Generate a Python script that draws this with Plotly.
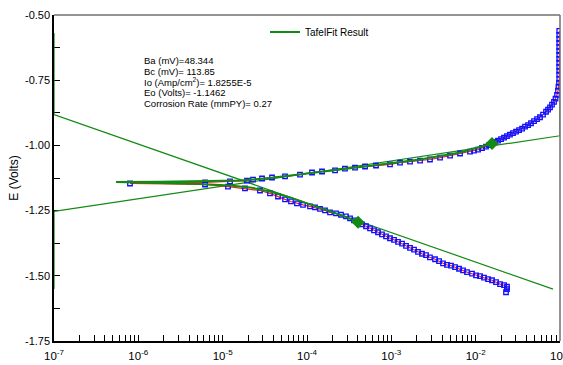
import plotly.graph_objects as go

# ---- measured polarization data (current A/cm2, potential V), sweep order ----
cath_i = [2.29e-2, 2.35e-2, 2.35e-2, 2.17e-2, 1.945e-2, 1.744e-2, 1.563e-2, 1.401e-2, 1.256e-2, 1.126e-2,
          1.01e-2, 9.05e-3, 7.89e-3, 7.08e-3, 6.35e-3, 5.69e-3, 5.10e-3, 4.57e-3, 4.10e-3, 3.68e-3,
          3.30e-3, 2.87e-3, 2.58e-3, 2.31e-3, 2.07e-3, 1.857e-3, 1.665e-3, 1.493e-3, 1.339e-3, 1.20e-3,
          1.076e-3, 9.64e-4, 8.65e-4, 7.75e-4, 6.95e-4, 6.23e-4, 5.59e-4, 5.01e-4, 4.49e-4, 4.03e-4,
          3.61e-4, 3.24e-4, 2.90e-4, 2.53e-4, 2.21e-4, 1.875e-4, 1.635e-4, 1.426e-4, 1.245e-4, 1.086e-4,
          8.97e-5, 7.61e-5, 6.46e-5, 5.49e-5, 4.53e-5, 3.64e-5, 2.77e-5, 1.84e-5, 1.157e-5, 6.18e-6,
          7.96e-7]
cath_E = [-1.563, -1.551, -1.542, -1.536, -1.532, -1.5245, -1.517, -1.513, -1.507, -1.5015,
          -1.498, -1.492, -1.486, -1.479, -1.473, -1.467, -1.461, -1.458, -1.452, -1.444,
          -1.4365, -1.429, -1.421, -1.4155, -1.408, -1.400, -1.393, -1.385, -1.377, -1.370,
          -1.362, -1.356, -1.349, -1.341, -1.333, -1.326, -1.318, -1.310, -1.303, -1.295,
          -1.2875, -1.280, -1.272, -1.266, -1.261, -1.257, -1.249, -1.2435, -1.238, -1.234,
          -1.228, -1.2225, -1.215, -1.207, -1.196, -1.184, -1.173, -1.165, -1.158, -1.150,
          -1.146]
anod_i = [6.18e-6, 1.222e-5, 1.944e-5, 2.29e-5, 2.93e-5, 3.85e-5, 5.49e-5, 8.26e-5, 1.147e-4, 1.507e-4,
          2.15e-4, 2.82e-4, 3.71e-4, 4.88e-4, 6.58e-4, 9.64e-4, 1.267e-3, 1.665e-3, 2.19e-3, 2.87e-3,
          3.78e-3, 4.97e-3, 6.52e-3, 8.57e-3, 9.56e-3, 1.067e-2, 1.19e-2, 1.327e-2, 1.44e-2, 1.563e-2,
          1.697e-2, 1.84e-2, 2.0e-2, 2.17e-2, 2.35e-2, 2.55e-2, 2.77e-2, 3.01e-2, 3.27e-2, 3.55e-2,
          3.85e-2, 4.18e-2, 4.53e-2, 4.92e-2, 5.34e-2, 5.79e-2, 6.29e-2, 6.83e-2, 7.21e-2, 7.61e-2,
          8.04e-2, 8.49e-2, 8.85e-2, 9.22e-2, 9.47e-2, 9.6e-2, 9.74e-2, 9.8e-2, 9.8e-2, 9.8e-2,
          9.8e-2, 9.8e-2, 9.8e-2, 9.8e-2, 9.8e-2, 9.8e-2, 9.8e-2, 9.8e-2, 9.8e-2, 9.8e-2]
anod_E = [-1.142, -1.138, -1.135, -1.131, -1.127, -1.123, -1.119, -1.112, -1.104, -1.100,
          -1.096, -1.089, -1.085, -1.081, -1.077, -1.073, -1.066, -1.062, -1.058, -1.054,
          -1.047, -1.039, -1.031, -1.024, -1.020, -1.016, -1.010, -1.005, -0.999, -0.993,
          -0.987, -0.982, -0.976, -0.970, -0.9645, -0.959, -0.953, -0.947, -0.9415, -0.936,
          -0.928, -0.922, -0.915, -0.907, -0.8995, -0.892, -0.882, -0.871, -0.863, -0.854,
          -0.844, -0.833, -0.821, -0.806, -0.7905, -0.775, -0.760, -0.745, -0.729, -0.714,
          -0.699, -0.683, -0.668, -0.653, -0.638, -0.622, -0.607, -0.592, -0.576, -0.561]

# ---- Tafel fit result ----
fit_i = [4.03e-4, 2.98e-4, 1.875e-4, 1.086e-4, 6.29e-5, 3.64e-5, 2.11e-5, 1.222e-5, 5.38e-6, 1.81e-6,
         5.43e-7, 1.81e-6, 5.38e-6, 1.605e-5, 3.64e-5, 8.26e-5, 2.46e-4, 7.34e-4, 2.19e-3, 6.52e-3,
         1.563e-2]
fit_E = [-1.295, -1.276, -1.253, -1.226, -1.1995, -1.177, -1.161, -1.154, -1.148, -1.144,
         -1.140, -1.139, -1.138, -1.135, -1.125, -1.112, -1.0925, -1.073, -1.054, -1.0275,
         -0.993]
ana_i = [1e-7, 1e-7, 1e-1, 1e-1]
ana_E = [-1.551, -1.253, -0.963, -0.569]
cat_i = [1e-7, 1e-7, 8.26e-2]
cat_E = [-0.569, -0.882, -1.551]
diam_i = [4.03e-4, 1.563e-2]
diam_E = [-1.295, -0.993]

# ---- axis ticks ----
x_major = [1e-7, 1e-6, 1e-5, 1e-4, 1e-3, 1e-2, 1e-1]
x_labels = ["10<sup>-7</sup>", "10<sup>-6</sup>", "10<sup>-5</sup>", "10<sup>-4</sup>",
            "10<sup>-3</sup>", "10<sup>-2</sup>", "10<sup>-1</sup>"]
y_tickvals = [-0.50, -0.75, -1.00, -1.25, -1.50, -1.75]
y_ticktext = ["-0.50", "-0.75", "-1.00", "-1.25", "-1.50", "-1.75"]

fit_text = ["Ba (mV)=48.344", "Bc (mV)= 113.85", "Io (Amp/cm<sup>2</sup>)= 1.8255E-5",
            "Eo (Volts)= -1.1462", "Corrosion Rate (mmPY)= 0.27"]

# tick positions: decades plus 2..9 minor positions (unlabelled)
x_tickvals, x_ticktext = [], []
for d, lab in zip(x_major, x_labels):
    x_tickvals.append(d)
    x_ticktext.append(lab)
    if d < 1e-1:
        for m in range(2, 10):
            x_tickvals.append(d * m)
            x_ticktext.append(" ")

meas_i = cath_i + anod_i
meas_E = cath_E + anod_E

GREEN = "#138a13"
FONT = "Liberation Sans, Arial, sans-serif"

fig = go.Figure()
fig.add_trace(go.Scatter(x=ana_i, y=ana_E, mode="lines", line=dict(color=GREEN, width=1.2),
                         showlegend=False, hoverinfo="skip"))
fig.add_trace(go.Scatter(x=cat_i, y=cat_E, mode="lines", line=dict(color=GREEN, width=1.2),
                         showlegend=False, hoverinfo="skip"))
fig.add_trace(go.Scatter(x=meas_i, y=meas_E, mode="lines", line=dict(color="#ff2020", width=1.2),
                         showlegend=False))
fig.add_trace(go.Scatter(x=meas_i, y=meas_E, mode="markers",
                         marker=dict(symbol="square-open", size=4.5, color="#1010ff",
                                     line=dict(width=1.3, color="#1010ff")),
                         showlegend=False))
fig.add_trace(go.Scatter(x=fit_i, y=fit_E, mode="lines", line=dict(color=GREEN, width=2),
                         name="TafelFit Result", showlegend=True))
fig.add_trace(go.Scatter(x=diam_i, y=diam_E, mode="markers",
                         marker=dict(symbol="diamond", size=10, color=GREEN),
                         showlegend=False))

text_px = [61, 71.5, 82, 92.5, 103]
for t, py in zip(fit_text, text_px):
    fig.add_annotation(x=(142 - 54) / 506, y=1 - (py - 15) / 326,
                       xref="paper", yref="paper", text=t, showarrow=False,
                       xanchor="left", yanchor="middle",
                       font=dict(size=9.5, color="black", family=FONT))

fig.update_layout(
    width=563, height=365,
    margin=dict(l=54, r=3, t=15, b=24),
    paper_bgcolor="white", plot_bgcolor="white",
    font=dict(family=FONT, color="black", size=11),
    showlegend=True,
    legend=dict(x=0.417, y=1 - (32 - 15) / 326, xanchor="left", yanchor="middle",
                bgcolor="rgba(0,0,0,0)", font=dict(size=10), itemwidth=30),
    xaxis=dict(type="log", range=[-7, -1], tickmode="array", tickvals=x_tickvals, ticktext=x_ticktext,
               tickangle=0, ticklabeloverflow="allow", ticklabelstandoff=3,
               ticks="inside", ticklen=6, tickwidth=1, tickcolor="black",
               showline=True, linecolor="black", linewidth=1.5, showgrid=False, zeroline=False,
               tickfont=dict(size=11.5), automargin=False),
    yaxis=dict(range=[-1.75, -0.5], tickvals=y_tickvals, ticktext=y_ticktext,
               ticks="inside", ticklen=6, tickwidth=1, tickcolor="black",
               showline=True, linecolor="black", linewidth=1.5, showgrid=False, zeroline=False,
               minor=dict(ticks="inside", ticklen=6, dtick=0.125, tickcolor="black", tickwidth=1,
                          showgrid=False),
               tickfont=dict(size=11), layer="below traces", automargin=False,
               title=dict(text="E (Volts)", font=dict(size=12), standoff=4)),
    shapes=[
        dict(type="line", xref="paper", yref="paper", x0=0, x1=1, y0=1, y1=1,
             line=dict(color="#707070", width=1.5)),
        dict(type="line", xref="paper", yref="paper", x0=1, x1=1, y0=0, y1=1,
             line=dict(color="#707070", width=1.5)),
    ],
)

fig.write_html("out.html")
